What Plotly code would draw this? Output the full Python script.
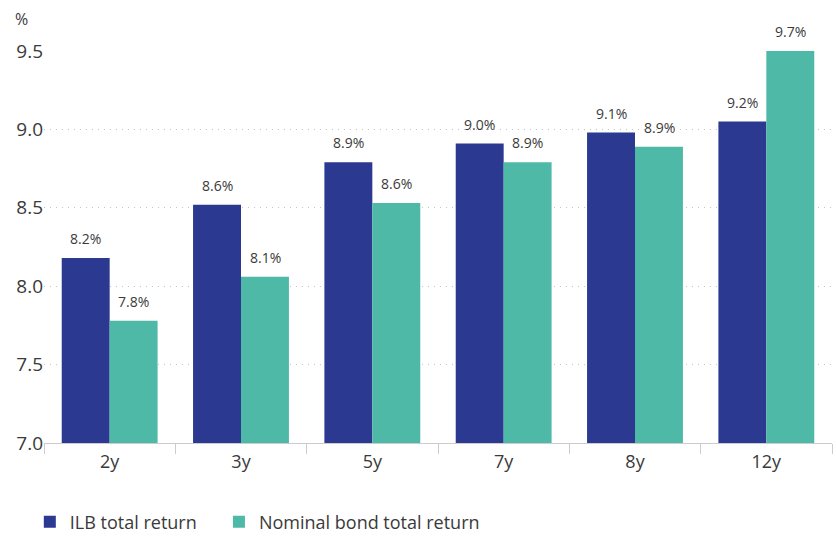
import plotly.graph_objects as go

categories = ["2y", "3y", "5y", "7y", "8y", "12y"]
ilb_values = [8.18, 8.52, 8.79, 8.91, 8.98, 9.05]
nominal_values = [7.78, 8.06, 8.53, 8.79, 8.89, 9.5]
ilb_labels = [8.2, 8.6, 8.9, 9.0, 9.1, 9.2]
nominal_labels = [7.8, 8.1, 8.6, 8.9, 8.9, 9.7]
y_ticks = [7.0, 7.5, 8.0, 8.5, 9.0, 9.5]

ILB_COLOR = "#2b3990"
NOM_COLOR = "#4fb9a7"
FONT = "Open Sans"
TXT = "#3a3a3a"

fig = go.Figure()
fig.add_trace(go.Bar(x=categories, y=ilb_values, name="ILB total return",
                     marker=dict(color=ILB_COLOR, line=dict(width=0)), legend="legend"))
fig.add_trace(go.Bar(x=categories, y=nominal_values, name="Nominal bond total return",
                     marker=dict(color=NOM_COLOR, line=dict(width=0)), legend="legend2"))

for cat, v, lab in zip(categories, ilb_values, ilb_labels):
    fig.add_annotation(x=cat, y=v, text=f"{lab:.1f}%", showarrow=False,
                       xshift=-24, yshift=8, yanchor="bottom",
                       font=dict(size=14, color=TXT, family=FONT))
for cat, v, lab in zip(categories, nominal_values, nominal_labels):
    fig.add_annotation(x=cat, y=v, text=f"{lab:.1f}%", showarrow=False,
                       xshift=24, yshift=8, yanchor="bottom",
                       font=dict(size=14, color=TXT, family=FONT))

fig.add_annotation(xref="paper", yref="paper", x=-0.028, y=1.0, yshift=32,
                   text="%", showarrow=False, xanchor="center", yanchor="middle",
                   font=dict(size=16, color=TXT, family=FONT))

legend_common = dict(orientation="h", xanchor="left", y=-0.2015, yanchor="middle",
                     font=dict(size=18, color=TXT, family=FONT), itemwidth=30,
                     bgcolor="rgba(0,0,0,0)")

fig.update_layout(
    width=836, height=537,
    margin=dict(l=44, r=4, t=51, b=94, autoexpand=False),
    paper_bgcolor="white", plot_bgcolor="white",
    barmode="group", bargap=0.27, bargroupgap=0,
    font=dict(family=FONT, color=TXT, size=18),
    showlegend=True,
    legend=dict(x=-0.018, **legend_common),
    legend2=dict(x=0.222, **legend_common),
    xaxis=dict(showline=True, linecolor="#cccccc", linewidth=1,
               ticks="outside", tickson="boundaries", ticklen=10, tickcolor="#cccccc",
               tickfont=dict(size=18, color=TXT), showgrid=False, ticklabelstandoff=2),
    yaxis=dict(range=[7.0, 9.5], tickvals=y_ticks, ticktext=[f"{t:.1f}" for t in y_ticks],
               showgrid=True, gridcolor="#c4c4c4", griddash="1px,5px", gridwidth=1,
               zeroline=False, showline=False, ticks="", ticklen=0,
               tickfont=dict(size=19, color=TXT)),
)

fig.write_html("out.html")
